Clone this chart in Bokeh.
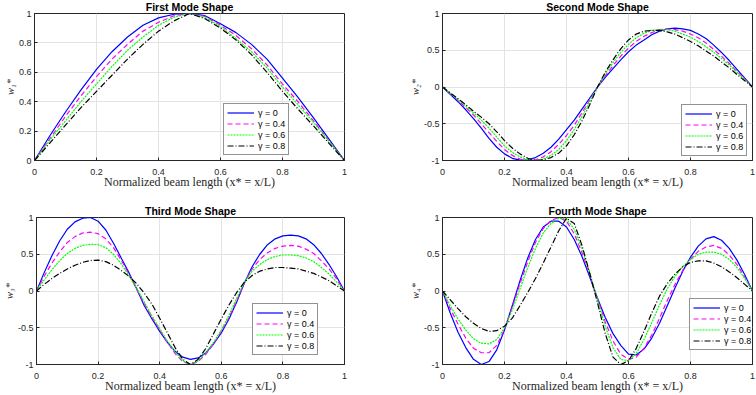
from bokeh.embed import file_html
from bokeh.layouts import column, row
from bokeh.models import FixedTicker, Legend, LegendItem, Range1d
from bokeh.plotting import figure
from bokeh.resources import INLINE

# Sample positions along the normalized beam
x_coarse = [round(i * 0.05, 3) for i in range(21)]
x_fine = [round(i * 0.025, 3) for i in range(41)]

gamma_labels = ["γ = 0", "γ = 0.4", "γ = 0.6", "γ = 0.8"]

# First mode shape (sampled on x_coarse)
mode1_g0 = [0, 0.17, 0.33, 0.48, 0.62, 0.74, 0.84, 0.92, 0.97, 0.995, 1.0,
            0.985, 0.93, 0.87, 0.79, 0.69, 0.56, 0.43, 0.29, 0.145, 0]
mode1_g4 = [0, 0.15, 0.30, 0.44, 0.57, 0.69, 0.79, 0.88, 0.94, 0.985, 1.0,
            0.98, 0.92, 0.85, 0.76, 0.65, 0.52, 0.40, 0.27, 0.135, 0]
mode1_g6 = [0, 0.14, 0.27, 0.40, 0.52, 0.64, 0.75, 0.84, 0.92, 0.975, 1.0,
            0.975, 0.91, 0.83, 0.74, 0.63, 0.50, 0.38, 0.26, 0.13, 0]
mode1_g8 = [0, 0.12, 0.24, 0.36, 0.47, 0.58, 0.69, 0.79, 0.88, 0.95, 1.0,
            0.965, 0.90, 0.82, 0.72, 0.60, 0.47, 0.35, 0.235, 0.117, 0]

# Second mode shape (sampled on x_fine)
mode2_g0 = [0, -0.10, -0.20, -0.31, -0.43, -0.56, -0.70, -0.82, -0.91, -0.97,
            -0.995, -0.99, -0.96, -0.90, -0.82, -0.71, -0.58, -0.45, -0.30, -0.15,
            0.0, 0.13, 0.25, 0.37, 0.48, 0.57, 0.64, 0.71, 0.76, 0.79,
            0.80, 0.79, 0.77, 0.72, 0.66, 0.57, 0.47, 0.36, 0.24, 0.12, 0]
mode2_g4 = [0, -0.09, -0.18, -0.28, -0.38, -0.50, -0.62, -0.74, -0.85, -0.93,
            -0.98, -1.0, -0.99, -0.95, -0.88, -0.78, -0.66, -0.52, -0.35, -0.18,
            0.0, 0.15, 0.29, 0.42, 0.53, 0.62, 0.69, 0.74, 0.78, 0.79,
            0.78, 0.76, 0.72, 0.67, 0.60, 0.51, 0.42, 0.32, 0.21, 0.11, 0]
mode2_g6 = [0, -0.085, -0.17, -0.26, -0.35, -0.45, -0.56, -0.68, -0.80, -0.89,
            -0.95, -0.99, -1.0, -0.98, -0.93, -0.85, -0.73, -0.58, -0.40, -0.20,
            0.0, 0.18, 0.33, 0.47, 0.58, 0.67, 0.73, 0.77, 0.78, 0.78,
            0.76, 0.72, 0.68, 0.62, 0.55, 0.47, 0.39, 0.30, 0.20, 0.10, 0]
mode2_g8 = [0, -0.08, -0.16, -0.24, -0.33, -0.41, -0.50, -0.61, -0.73, -0.83,
            -0.91, -0.97, -1.0, -0.99, -0.96, -0.90, -0.80, -0.65, -0.46, -0.24,
            0.0, 0.20, 0.37, 0.52, 0.64, 0.72, 0.76, 0.77, 0.77, 0.75,
            0.72, 0.67, 0.62, 0.56, 0.49, 0.42, 0.34, 0.26, 0.17, 0.085, 0]

# Third mode shape (sampled on x_fine)
mode3_g0 = [0, 0.25, 0.48, 0.68, 0.84, 0.94, 0.99, 1.0, 0.95, 0.83,
            0.65, 0.45, 0.25, 0.03, -0.20, -0.38, -0.55, -0.70, -0.82, -0.90,
            -0.93, -0.91, -0.84, -0.72, -0.57, -0.38, -0.15, 0.11, 0.33, 0.50,
            0.63, 0.71, 0.75, 0.76, 0.75, 0.71, 0.63, 0.51, 0.36, 0.19, 0]
mode3_g4 = [0, 0.20, 0.38, 0.53, 0.66, 0.74, 0.79, 0.80, 0.78, 0.71,
            0.59, 0.42, 0.23, 0.03, -0.17, -0.36, -0.53, -0.70, -0.85, -0.96,
            -1.0, -0.96, -0.86, -0.72, -0.55, -0.36, -0.13, 0.11, 0.30, 0.43,
            0.52, 0.58, 0.61, 0.62, 0.61, 0.57, 0.51, 0.41, 0.30, 0.16, 0]
mode3_g6 = [0, 0.15, 0.29, 0.41, 0.51, 0.58, 0.62, 0.635, 0.63, 0.59,
            0.50, 0.37, 0.21, 0.04, -0.15, -0.34, -0.51, -0.68, -0.83, -0.95,
            -1.0, -0.95, -0.84, -0.70, -0.53, -0.33, -0.10, 0.12, 0.27, 0.36,
            0.43, 0.47, 0.49, 0.49, 0.48, 0.45, 0.40, 0.32, 0.23, 0.12, 0]
mode3_g8 = [0, 0.09, 0.17, 0.24, 0.30, 0.35, 0.39, 0.415, 0.42, 0.40,
            0.35, 0.28, 0.20, 0.10, -0.03, -0.18, -0.37, -0.57, -0.77, -0.93,
            -1.0, -0.93, -0.78, -0.58, -0.38, -0.19, -0.02, 0.12, 0.21, 0.27,
            0.30, 0.32, 0.32, 0.31, 0.30, 0.27, 0.24, 0.19, 0.14, 0.07, 0]

# Fourth mode shape (sampled on x_fine)
mode4_g0 = [0, -0.30, -0.56, -0.77, -0.93, -1.0, -0.96, -0.80, -0.53, -0.20,
            0.14, 0.45, 0.70, 0.87, 0.95, 0.95, 0.87, 0.70, 0.47, 0.19,
            -0.10, -0.36, -0.58, -0.74, -0.86, -0.87, -0.79, -0.64, -0.44, -0.20,
            0.04, 0.27, 0.46, 0.61, 0.71, 0.74, 0.69, 0.58, 0.42, 0.22, 0]
mode4_g4 = [0, -0.24, -0.45, -0.64, -0.78, -0.84, -0.84, -0.74, -0.52, -0.22,
            0.10, 0.40, 0.66, 0.85, 0.96, 1.0, 0.95, 0.78, 0.52, 0.22,
            -0.10, -0.42, -0.68, -0.86, -0.93, -0.90, -0.78, -0.60, -0.37, -0.13,
            0.09, 0.28, 0.43, 0.54, 0.60, 0.62, 0.58, 0.49, 0.36, 0.19, 0]
mode4_g6 = [0, -0.20, -0.38, -0.53, -0.65, -0.71, -0.72, -0.66, -0.50, -0.26,
            0.03, 0.32, 0.58, 0.79, 0.92, 0.99, 0.98, 0.84, 0.58, 0.25,
            -0.12, -0.48, -0.77, -0.93, -0.95, -0.85, -0.66, -0.43, -0.19, 0.03,
            0.20, 0.33, 0.43, 0.50, 0.53, 0.53, 0.50, 0.43, 0.32, 0.17, 0]
mode4_g8 = [0, -0.12, -0.24, -0.35, -0.44, -0.51, -0.55, -0.54, -0.48, -0.37,
            -0.20, -0.02, 0.17, 0.38, 0.60, 0.82, 0.99, 0.92, 0.62, 0.24,
            -0.16, -0.58, -0.90, -1.0, -0.95, -0.78, -0.55, -0.30, -0.07, 0.10,
            0.23, 0.33, 0.39, 0.41, 0.41, 0.38, 0.33, 0.26, 0.18, 0.09, 0]

# Axis ticks and their printed labels
x_ticks = [0, 0.2, 0.4, 0.6, 0.8, 1]
x_tick_labels = ["0", "0.2", "0.4", "0.6", "0.8", "1"]
y_ticks_first = [0, 0.2, 0.4, 0.6, 0.8, 1]
y_tick_labels_first = ["0", "0.2", "0.4", "0.6", "0.8", "1"]
y_ticks_sym = [-1, -0.5, 0, 0.5, 1]
y_tick_labels_sym = ["-1", "-0.5", "0", "0.5", "1"]

LINE_STYLES = [
    dict(line_color="#0000ff", line_dash="solid"),
    dict(line_color="#ff00ff", line_dash="5 3"),
    dict(line_color="#00ff00", line_dash="2 1"),
    dict(line_color="#000000", line_dash="6 2 1 2"),
]
AX = "#262626"
SANS = "Liberation Sans"
SERIF = "Liberation Serif"


def mode_panel(title, ylabel, xs, series, y_ticks, y_tick_labels,
               height, border_left, border_right, border_top, border_bottom,
               legend_at):
    p = figure(width=378, height=height,
               x_range=Range1d(0, 1), y_range=Range1d(y_ticks[0], y_ticks[-1]),
               output_backend="svg", toolbar_location=None, tools="",
               min_border_left=border_left, min_border_right=border_right,
               min_border_top=border_top, min_border_bottom=border_bottom,
               background_fill_color="white", border_fill_color="white")

    p.title.text = title
    p.title.align = "center"
    p.title.vertical_align = "top"
    p.title.text_font = SANS
    p.title.text_font_style = "bold"
    p.title.text_font_size = "10.5px"
    p.title.text_color = "#000000"
    p.title.standoff = -2
    p.title.offset = 0

    p.xaxis.ticker = FixedTicker(ticks=x_ticks)
    p.yaxis.ticker = FixedTicker(ticks=y_ticks)
    p.xgrid.ticker = FixedTicker(ticks=x_ticks)
    p.ygrid.ticker = FixedTicker(ticks=y_ticks)
    p.xaxis.major_label_overrides = dict(zip(x_ticks, x_tick_labels))
    p.yaxis.major_label_overrides = dict(zip(y_ticks, y_tick_labels))

    p.grid.grid_line_color = "#e3e3e3"
    p.grid.grid_line_width = 1
    p.outline_line_color = AX
    p.outline_line_width = 1

    for ax in (p.xaxis, p.yaxis):
        ax.axis_line_color = AX
        ax.major_tick_line_color = AX
        ax.major_tick_in = 3
        ax.major_tick_out = 0
        ax.minor_tick_line_color = None
        ax.major_label_text_font = SANS
        ax.major_label_text_font_size = "9px"
        ax.major_label_text_color = AX

    p.xaxis.major_label_standoff = 8
    p.xaxis.axis_label = "Normalized beam length (x* = x/L)"
    p.xaxis.axis_label_text_font = SERIF
    p.xaxis.axis_label_text_font_style = "normal"
    p.xaxis.axis_label_text_font_size = "12px"
    p.xaxis.axis_label_text_color = AX
    p.xaxis.axis_label_standoff = -3

    p.yaxis.major_label_standoff = 3
    p.yaxis.axis_label = ylabel
    p.yaxis.axis_label_text_font = SERIF
    p.yaxis.axis_label_text_font_style = "italic"
    p.yaxis.axis_label_text_font_size = "10.5px"
    p.yaxis.axis_label_text_color = AX
    p.yaxis.axis_label_standoff = 0

    items = []
    for ys, style, lab in zip(series, LINE_STYLES, gamma_labels):
        r = p.line(xs, ys, line_width=1.2, **style)
        items.append(LegendItem(label=lab, renderers=[r]))

    legend = Legend(items=items, location=legend_at, margin=0, padding=3,
                    spacing=0, glyph_width=27, glyph_height=11, label_height=11,
                    label_standoff=4, label_text_font=SANS,
                    label_text_font_size="9px", label_text_color="#000000",
                    border_line_color=AX, border_line_width=1,
                    background_fill_color="white", background_fill_alpha=1)
    p.add_layout(legend)
    return p


p1 = mode_panel("First Mode Shape", "w₁*", x_coarse,
                [mode1_g0, mode1_g4, mode1_g6, mode1_g8],
                y_ticks_first, y_tick_labels_first,
                197, 34, 34, 12, 37, (189, 5))
p2 = mode_panel("Second Mode Shape", "w₂*", x_fine,
                [mode2_g0, mode2_g4, mode2_g6, mode2_g8],
                y_ticks_sym, y_tick_labels_sym,
                197, 64, 4, 13, 37, (239, 4))
p3 = mode_panel("Third Mode Shape", "w₃*", x_fine,
                [mode3_g0, mode3_g4, mode3_g6, mode3_g8],
                y_ticks_sym, y_tick_labels_sym,
                198, 34, 34, 20, 30, (216, 9))
p4 = mode_panel("Fourth Mode Shape", "w₄*", x_fine,
                [mode4_g0, mode4_g4, mode4_g6, mode4_g8],
                y_ticks_sym, y_tick_labels_sym,
                198, 64, 4, 20, 30, (247, 14))

layout = column(row(p1, p2, spacing=0), row(p3, p4, spacing=0), spacing=0)

with open("out.html", "w") as f:
    f.write(file_html(layout, INLINE))
